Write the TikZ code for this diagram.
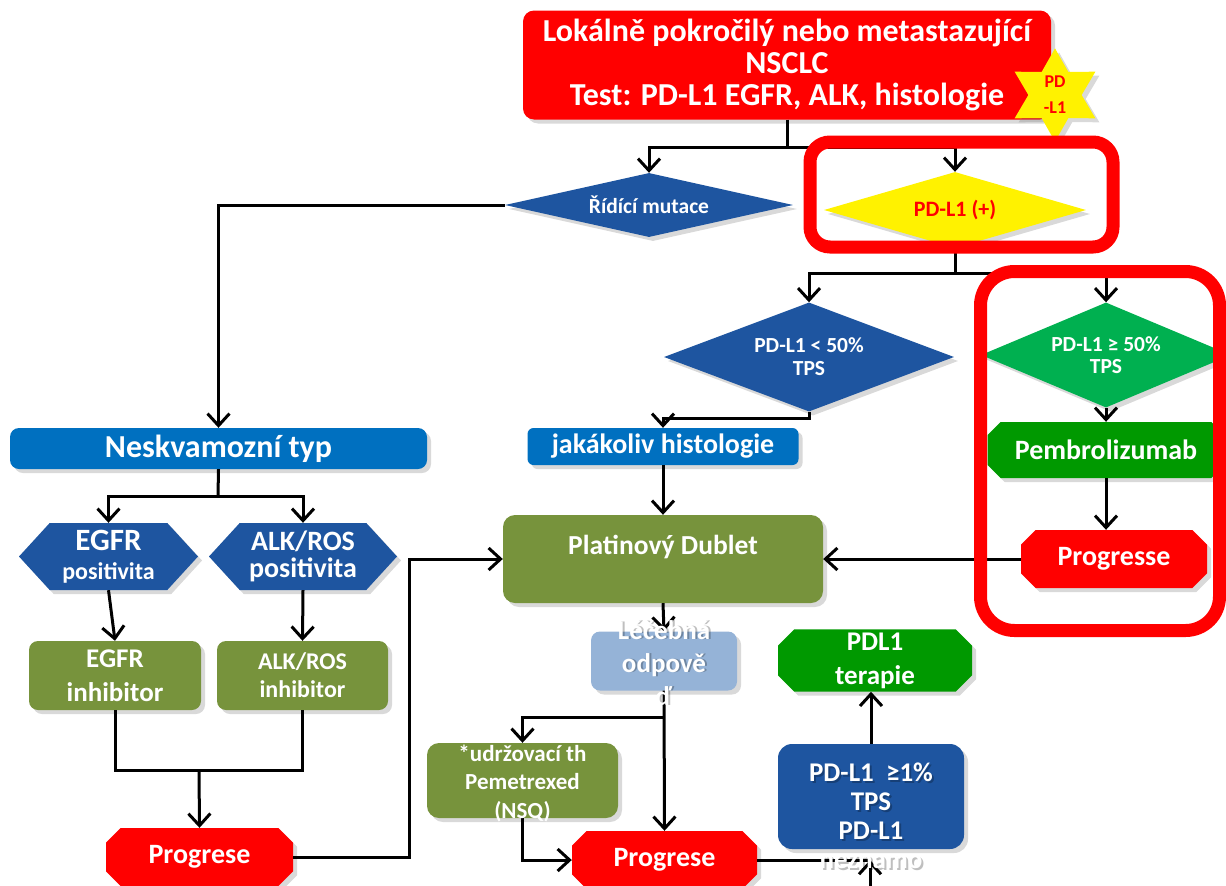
\documentclass[tikz,border=0pt]{standalone}
\usepackage{fontspec}
\setmainfont{Carlito}
\usepackage{tikz}
\usetikzlibrary{shapes.geometric, shapes.misc, shapes.symbols, arrows.meta, shadows, positioning}

\definecolor{alarmred}{HTML}{FF0000}
\definecolor{navyblue}{HTML}{1E55A0}
\definecolor{skyblue}{HTML}{0070C0}
\definecolor{paleblue}{HTML}{95B3D7}
\definecolor{mossgreen}{HTML}{77933C}
\definecolor{leafgreen}{HTML}{00B050}
\definecolor{deepgreen}{HTML}{009900}

\newcommand{\sz}[2]{\fontsize{#1}{#2}\selectfont\bfseries}

\tikzstyle{arrow} = [line width=3pt, -{Straight Barb[length=12pt,width=22pt]}]
\tikzstyle{link} = [line width=3pt]

\begin{document}
\begin{tikzpicture}[x=1pt, y=-1pt,
    soft/.style={drop shadow={shadow xshift=4pt, shadow yshift=-4pt, opacity=0.3}},
    box/.style={rectangle, rounded corners=9pt, text=white, align=center, inner sep=0pt, soft},
    octa/.style={chamfered rectangle, chamfered rectangle xsep=13pt, text=white, align=center, inner sep=0pt, soft},
    hexa/.style={signal, signal to=east and west, signal pointer angle=95, text=white, align=center, inner sep=0pt, soft},
    rhomb/.style={diamond, text=white, align=center, inner sep=0pt, soft},
    frame/.style={rectangle, draw=alarmred, line width=13pt, rounded corners=20pt, inner sep=0pt},
    txt/.style={text=white, align=center, inner sep=0pt}]

    \useasboundingbox (0,0) rectangle (1226,886);

    % Diagnosis and testing
    \node[box, fill=alarmred, minimum width=528, minimum height=109, rounded corners=11pt, font=\sz{32}{32}] (nsclc) at (787,65)
        {Lokálně pokročilý nebo metastazující\\NSCLC\\Test: PD-L1 EGFR, ALK, histologie};
    \node[star, star points=6, star point ratio=1.75, fill=yellow, minimum size=84, inner sep=0pt,
        text=alarmred, align=center, font=\sz{18}{26}, soft] (badge) at (1055,95) {PD\\-L1};

    % Decisions
    \node[rhomb, fill=navyblue, aspect=4.5, minimum width=288, minimum height=64, font=\sz{21.5}{22}] (ridici) at (649,205) {Řídící mutace};
    \node[rhomb, fill=yellow, text=alarmred, aspect=3.4, minimum width=262, minimum height=76, font=\sz{22}{22}] (pdpos) at (955,210) {PD-L1 (+)};
    \node[rhomb, fill=navyblue, aspect=2.66, minimum width=290, minimum height=109, font=\sz{21.5}{23}] (pdlow) at (809,357) {PD-L1 < 50\%\\TPS};
    \node[rhomb, fill=leafgreen, aspect=2.3, minimum width=250, minimum height=105, font=\sz{21.5}{22}] (pdhigh) at (1106,355) {PD-L1 ≥ 50\%\\TPS};

    % Driver mutation branch
    \node[box, fill=skyblue, minimum width=417, minimum height=41, font=\sz{32}{32}] (neskv) at (218.5,448.5) {Neskvamozní typ};
    \node[hexa, fill=navyblue, minimum width=179, minimum height=67, font=\sz{24}{26}] (egfrpos) at (108.5,556.5)
        {{\fontsize{31}{26}\selectfont EGFR}\\[3pt]positivita};
    \node[hexa, fill=navyblue, minimum width=188, minimum height=67, font=\sz{28}{27}] (alkpos) at (303,556.5) {ALK/ROS\\positivita};
    \node[box, fill=mossgreen, minimum width=172, minimum height=69, font=\sz{27}{34}] (egfrinh) at (115,675.5) {EGFR\\inhibitor};
    \node[box, fill=mossgreen, minimum width=171, minimum height=69, font=\sz{24}{28}] (alkinh) at (302.5,675.5) {ALK/ROS\\inhibitor};
    \node[octa, fill=alarmred, minimum width=187, minimum height=58, font=\sz{28}{30}] (prog1) at (199.5,857) {Progrese};

    % Chemotherapy branch
    \node[box, fill=skyblue, minimum width=271, minimum height=37, rounded corners=6pt, font=\sz{28}{30}] (jakakoliv) at (663,446.5) {jakákoliv histologie};
    \node[box, fill=mossgreen, minimum width=320, minimum height=88, rounded corners=12pt, font=\sz{27.5}{28}] (platinovy) at (663,559) {Platinový Dublet\\\mbox{}};
    \node[box, fill=paleblue, minimum width=146, minimum height=59] (odpoved) at (664,661) {};
    \node[box, fill=mossgreen, minimum width=191, minimum height=75, rounded corners=12pt] (udrz) at (522.5,780.5) {};
    \node[octa, fill=alarmred, minimum width=185, minimum height=58, font=\sz{28}{30}] (prog2) at (664.5,860) {Progrese};
    \node[box, fill=navyblue, minimum width=186, minimum height=105, rounded corners=14pt] (pdbox) at (871,796.5) {};
    \node[octa, fill=deepgreen, minimum width=194, minimum height=57, font=\sz{27}{34}] (terapie) at (875,660.5) {PDL1\\terapie};

    % High expression branch
    \node[octa, fill=deepgreen, minimum width=237, minimum height=56, font=\sz{28}{28}] (pembro) at (1106,450) {Pembrolizumab};
    \node[octa, fill=alarmred, minimum width=186, minimum height=58, font=\sz{28}{30}] (prog3) at (1114,559) {Progresse};

    % Arrows
    \coordinate (fork1) at (787,147);
    \coordinate (fork2) at (955,273);
    \coordinate (fork3) at (664,717);
    \coordinate (fork4) at (218,496);
    \coordinate (join1) at (199,770);
    \coordinate (pdfoot) at (870,860);
    \coordinate (pdstub) at (870,886);
    \draw[link] (nsclc.south) -- (fork1);
    \draw[arrow] (fork1) -| (ridici.north);
    \draw[arrow] (fork1) -| (pdpos.north);
    \draw[link] (pdpos.south) -- (fork2);
    \draw[arrow] (fork2) -| (pdlow.north);
    \draw[arrow] (fork2) -| (pdhigh.north);
    \draw[arrow] (pdhigh.south) -- (pembro.north);
    \draw[arrow] (pembro.south) -- (pembro.south |- prog3.north);
    \draw[arrow] (prog3.west) -- (platinovy.east);
    \draw[arrow] (pdlow.south) -- ++(0,7) -| (jakakoliv.north);
    \draw[arrow] (jakakoliv.south) -- (platinovy.north);
    \draw[arrow] (platinovy.south) -- (odpoved.north);
    \draw[arrow] (odpoved.south) -- (prog2.north);
    \draw[arrow] (fork3) -| (udrz.north);
    \draw[arrow] (udrz.south) |- (prog2.west);
    \draw[link] (prog2.east) -- (pdfoot);
    \draw[arrow] (pdstub) -- (pdfoot);
    \draw[arrow] (pdbox.north) -- (pdbox.north |- terapie.south);
    \draw[arrow] (ridici.west) -| (neskv.north);
    \draw[link] (neskv.south) -- (fork4);
    \draw[arrow] (fork4) -| (egfrpos.north);
    \draw[arrow] (fork4) -| (alkpos.north);
    \draw[arrow] (egfrpos.south) -- (egfrinh.north);
    \draw[arrow] (alkpos.south) -- (alkinh.north);
    \draw[link] (egfrinh.south) |- (join1) -| (alkinh.south);
    \draw[arrow] (join1) -- (prog1.north);
    \draw[arrow] (prog1.east) -- ++(116,0) |- (platinovy.west);

    % Texts running past their boxes
    \node[txt, text=black, opacity=0.25, font=\sz{27}{33}] at ([shift={(2,2)}]odpoved.center) {Léčebná\\odpově\\ď};
    \node[txt, font=\sz{27}{33}] (odpovedtext) at ([shift={(0,2)}]odpoved.center) {Léčebná\\odpově\\ď};
    \node[txt, font=\sz{23}{28.5}] (udrztext) at ([shift={(0,3)}]udrz.center) {*udržovací th\\Pemetrexed\\(NSQ)};
    \node[txt, text=black, opacity=0.25, font=\sz{27}{29}] at ([shift={(2,21)}]pdbox.center) {PD-L1\ \ ≥1\%\\TPS\\PD-L1\\neznamo};
    \node[txt, font=\sz{27}{29}] (pdboxtext) at ([shift={(0,19)}]pdbox.center) {PD-L1\ \ ≥1\%\\TPS\\PD-L1\\neznamo};

    % Highlight frames
    \node[frame, minimum width=303, minimum height=105] (frame1) at (961.5,194.5) {};
    \node[frame, minimum width=239, minimum height=359, rounded corners=34pt] (frame2) at (1100,451) {};
\end{tikzpicture}
\end{document}
